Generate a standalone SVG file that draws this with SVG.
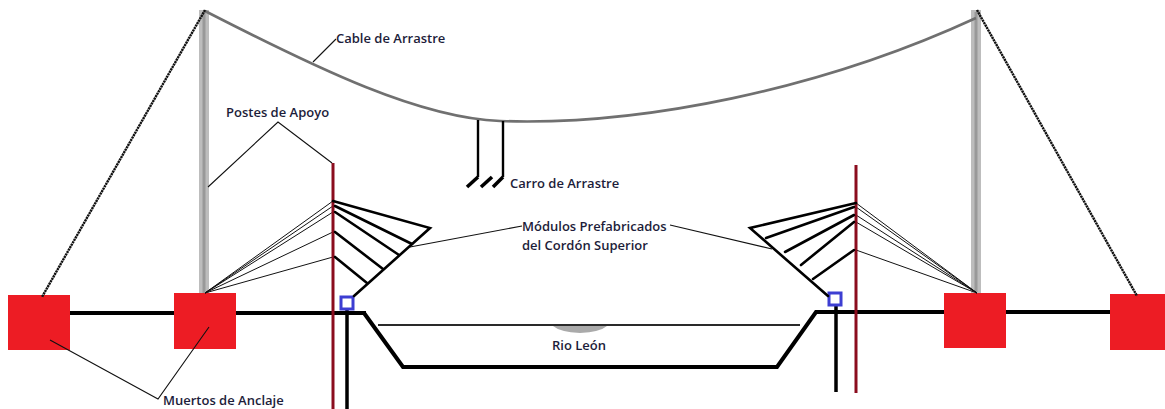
<svg xmlns="http://www.w3.org/2000/svg" width="1165" height="409" viewBox="0 0 1165 409">
  <style>
    .lbl { font-family: "Open Sans", "Liberation Sans", sans-serif; font-size: 13px; font-weight: 600; fill: #1d1d3a; }
    .thin { stroke: #111; stroke-width: 1; fill: none; }
    .lead { stroke: #111; stroke-width: 1.1; fill: none; }
    .ground { stroke: #000; stroke-width: 4; fill: none; stroke-linejoin: miter; }
    .anchor { fill: #ed1c24; }
    .redpole { stroke: #8b0d1e; stroke-width: 3; }
    .blackpole { stroke: #000; stroke-width: 3.5; }
    .clamp { fill: #fff; stroke: #3d3ed2; stroke-width: 3; }
    .rope { stroke: #111; stroke-width: 2.4; stroke-dasharray: 2.2 0.6; fill: none; }
    .module { stroke: #000; stroke-width: 2.6; fill: none; stroke-linecap: round; }
    .post { fill: #bdbdbd; }
    .postcore { stroke: #999; stroke-width: 3; }
  </style>
  <defs>
    <filter id="soft" x="-10%" y="-10%" width="120%" height="120%">
      <feGaussianBlur stdDeviation="0.7"/>
    </filter>
  </defs>

  <rect width="1165" height="409" fill="#ffffff"/>

  <!-- ground line and river channel -->
  <g id="ground">
    <line class="ground" x1="8" y1="313" x2="366" y2="313"/>
    <polyline class="ground" points="364,313 403,367 777,367 816,312 1112,312"/>
  </g>

  <g id="river">
    <line x1="378" y1="325" x2="800" y2="325" stroke="#2a2a2a" stroke-width="1.8"/>
    <path d="M553,326 L607,326 Q600,332 580,333 Q560,332 553,326 Z" fill="#aaaaaa" filter="url(#soft)"/>
    <text class="lbl" x="552" y="350">Rio León</text>
  </g>

  <!-- support posts -->
  <g id="post-left">
    <rect class="post" x="199" y="10" width="10" height="286" filter="url(#soft)"/>
    <line class="postcore" x1="204" y1="12" x2="204" y2="294"/>
  </g>
  <g id="post-right">
    <rect class="post" x="971" y="10" width="10" height="284" filter="url(#soft)"/>
    <line class="postcore" x1="976" y1="12" x2="976" y2="292"/>
  </g>

  <!-- anchor blocks -->
  <g id="anchor-1"><rect class="anchor" x="8" y="295" width="62" height="55"/></g>
  <g id="anchor-2"><rect class="anchor" x="174" y="293" width="62" height="56"/></g>
  <g id="anchor-3"><rect class="anchor" x="944" y="293" width="62" height="55"/></g>
  <g id="anchor-4"><rect class="anchor" x="1110" y="294" width="60" height="56"/></g>

  <g id="connectors">
    <!-- drag cable between the post tops -->
    <path d="M205,11 C320,70 420,118 500,121 C640,126 820,90 976,18" stroke="#707070" stroke-width="2.6" fill="none" filter="url(#soft)"/>
    <!-- guy ropes -->
    <line class="rope" x1="205" y1="10" x2="42" y2="297"/>
    <line class="rope" x1="977" y1="10" x2="1137" y2="296"/>

    <!-- stays from the left anchor to the left pole -->
    <polyline class="thin" points="205,293 333,201"/>
    <polyline class="thin" points="205,293 333,206"/>
    <polyline class="thin" points="205,293 333,212"/>
    <polyline class="thin" points="205,293 333,232"/>
    <polyline class="thin" points="205,293 333,257"/>
    <!-- stays from the right anchor to the right pole -->
    <polyline class="thin" points="977,293 856,203"/>
    <polyline class="thin" points="977,293 856,207"/>
    <polyline class="thin" points="977,293 856,215"/>
    <polyline class="thin" points="977,293 856,222"/>
    <polyline class="thin" points="977,293 856,250"/>

    <!-- label leaders -->
    <polyline class="lead" points="313,62 336,39"/>
    <polyline class="lead" points="208,187 278,122 332,163"/>
    <polyline class="lead" points="410,247 522,226"/>
    <polyline class="lead" points="670,225 772,249"/>
    <polyline class="lead" points="50,340 158,399 209,327"/>
  </g>

  <!-- red guide poles -->
  <g id="pole-left"><line class="redpole" x1="333" y1="163" x2="333" y2="409"/></g>
  <g id="pole-right"><line class="redpole" x1="856" y1="165" x2="856" y2="393"/></g>

  <!-- black piles with clamps -->
  <g id="pile-left">
    <line class="blackpole" x1="347" y1="305" x2="347" y2="409"/>
    <rect class="clamp" x="341" y="297" width="12" height="12"/>
  </g>
  <g id="pile-right">
    <line class="blackpole" x1="836" y1="300" x2="836" y2="392"/>
    <rect class="clamp" x="829" y="293" width="12" height="12"/>
  </g>

  <!-- precast upper chord modules -->
  <g id="module-left" filter="url(#soft)">
    <path class="module" d="M333,201 L430,228 L354,296"/>
    <line class="module" x1="335" y1="206" x2="412" y2="244"/>
    <line class="module" x1="335" y1="212" x2="399" y2="255"/>
    <line class="module" x1="335" y1="232" x2="383" y2="269"/>
    <line class="module" x1="335" y1="257" x2="367" y2="283"/>
  </g>
  <g id="module-right" filter="url(#soft)">
    <path class="module" d="M856,203 L750,228 L828,296"/>
    <line class="module" x1="854" y1="207" x2="766" y2="238"/>
    <line class="module" x1="854" y1="215" x2="785" y2="252"/>
    <line class="module" x1="854" y1="222" x2="801" y2="265"/>
    <line class="module" x1="854" y1="250" x2="813" y2="279"/>
  </g>

  <!-- drag carriage -->
  <g id="carriage">
    <line x1="478" y1="120" x2="478" y2="177" stroke="#000" stroke-width="2.4"/>
    <line x1="503" y1="121" x2="503" y2="177" stroke="#000" stroke-width="2.4"/>
    <line x1="467" y1="187" x2="478" y2="177" stroke="#000" stroke-width="3.6"/>
    <line x1="481" y1="187" x2="492" y2="177" stroke="#000" stroke-width="3.6"/>
    <line x1="493" y1="187" x2="503" y2="177" stroke="#000" stroke-width="3.6"/>
  </g>

  <!-- labels -->
  <g id="labels">
    <text class="lbl" x="336" y="43">Cable de Arrastre</text>
    <text class="lbl" x="226" y="117">Postes de Apoyo</text>
    <text class="lbl" x="510" y="188">Carro de Arrastre</text>
    <text class="lbl" x="522" y="231">Módulos Prefabricados</text>
    <text class="lbl" x="522" y="250">del Cordón Superior</text>
    <text class="lbl" x="163" y="405">Muertos de Anclaje</text>
  </g>
</svg>
